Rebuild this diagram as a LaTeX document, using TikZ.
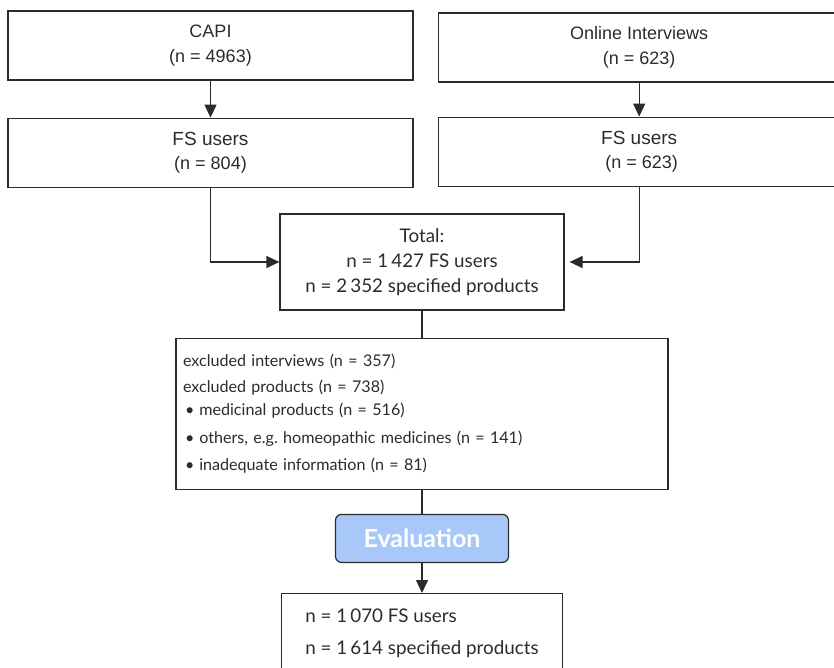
\documentclass[tikz,border=0pt]{standalone}
\usepackage{fontspec}
\setmainfont{Lato}
\newfontfamily\arialfont{Liberation Sans}
\usepackage{tikz}
\usetikzlibrary{positioning, arrows.meta}
\definecolor{linegray}{HTML}{2B2B2B}
\definecolor{evalblue}{HTML}{A8C8FA}

\begin{document}
\begin{tikzpicture}[x=1pt, y=1pt,
        box/.style={draw, rectangle, inner sep=2pt, align=center},
        topbox/.style={box, minimum width=405pt, minimum height=69pt, font=\arialfont\fontsize{18}{24.5}\selectfont},
        evalbox/.style={draw, rounded corners=6pt, fill=evalblue, minimum width=173pt, minimum height=48pt, text=white, font=\bfseries\fontsize{25}{28}\selectfont},
        color=linegray, line width=1.2pt, >={Triangle[length=13pt, width=12pt]}]

        \useasboundingbox (0,0) rectangle (834,667);
        \clip (0,0) rectangle (834,667);

        % Caixas de entrada
        \node (capi) [topbox] at (210.5, 621.5) {CAPI\\(n = 4963)};
        \node (online) [topbox, minimum width=402pt, right=24pt of capi, yshift=-2pt] {Online Interviews\\(n = 623)};
        \node (fsl) [topbox, below=37pt of capi] {{\fontsize{19}{25}\selectfont FS users}\\(n = 804)};
        \node (fsr) [topbox, minimum width=402pt, below=34pt of online] {{\fontsize{19}{25}\selectfont FS users}\\\hspace{5pt}(n = 623)};

        % Total e exclusões
        \node (total) [box, minimum width=284pt, minimum height=96pt, font=\fontsize{18.8}{25}\selectfont] at (422, 405) {Total:\\n = 1\,427 FS users\\n = 2\,352 specified products};
        \node (excl) [box, below=27pt of total, minimum width=492pt, minimum height=151pt, text width=478pt, inner xsep=7pt, align=left, font=\fontsize{16.1}{26}\selectfont] {excluded interviews (n = 357)\\
            excluded products (n = 738)\\[-3pt]
            \hspace{2pt}•\hspace{5pt}medicinal products (n = 516)\\[2pt]
            \hspace{2pt}•\hspace{5pt}others, e.g.\ homeopathic medicines (n = 141)\\[1pt]
            \hspace{2pt}•\hspace{5pt}inadequate information (n = 81)};

        % Avaliação e resultado
        \node (eval) [evalbox, below=24pt of excl] {Evaluation};
        \node (result) [box, below=30pt of eval, minimum width=281pt, minimum height=80pt, align=left, font=\fontsize{18.8}{32}\selectfont] {n = 1\,070 FS users\\n = 1\,614 specified products};

        % Conexões
        \draw[->] (capi) -- (fsl);
        \draw[->] (online) -- (fsr);
        \draw[->] (fsl.south) |- (total.west);
        \draw[->, shorten >=5pt] (fsr.south) |- (total.east);
        \draw (total) -- (excl);
        \draw (excl) -- (eval);
        \draw[->] (eval) -- (result);

    \end{tikzpicture}
\end{document}
